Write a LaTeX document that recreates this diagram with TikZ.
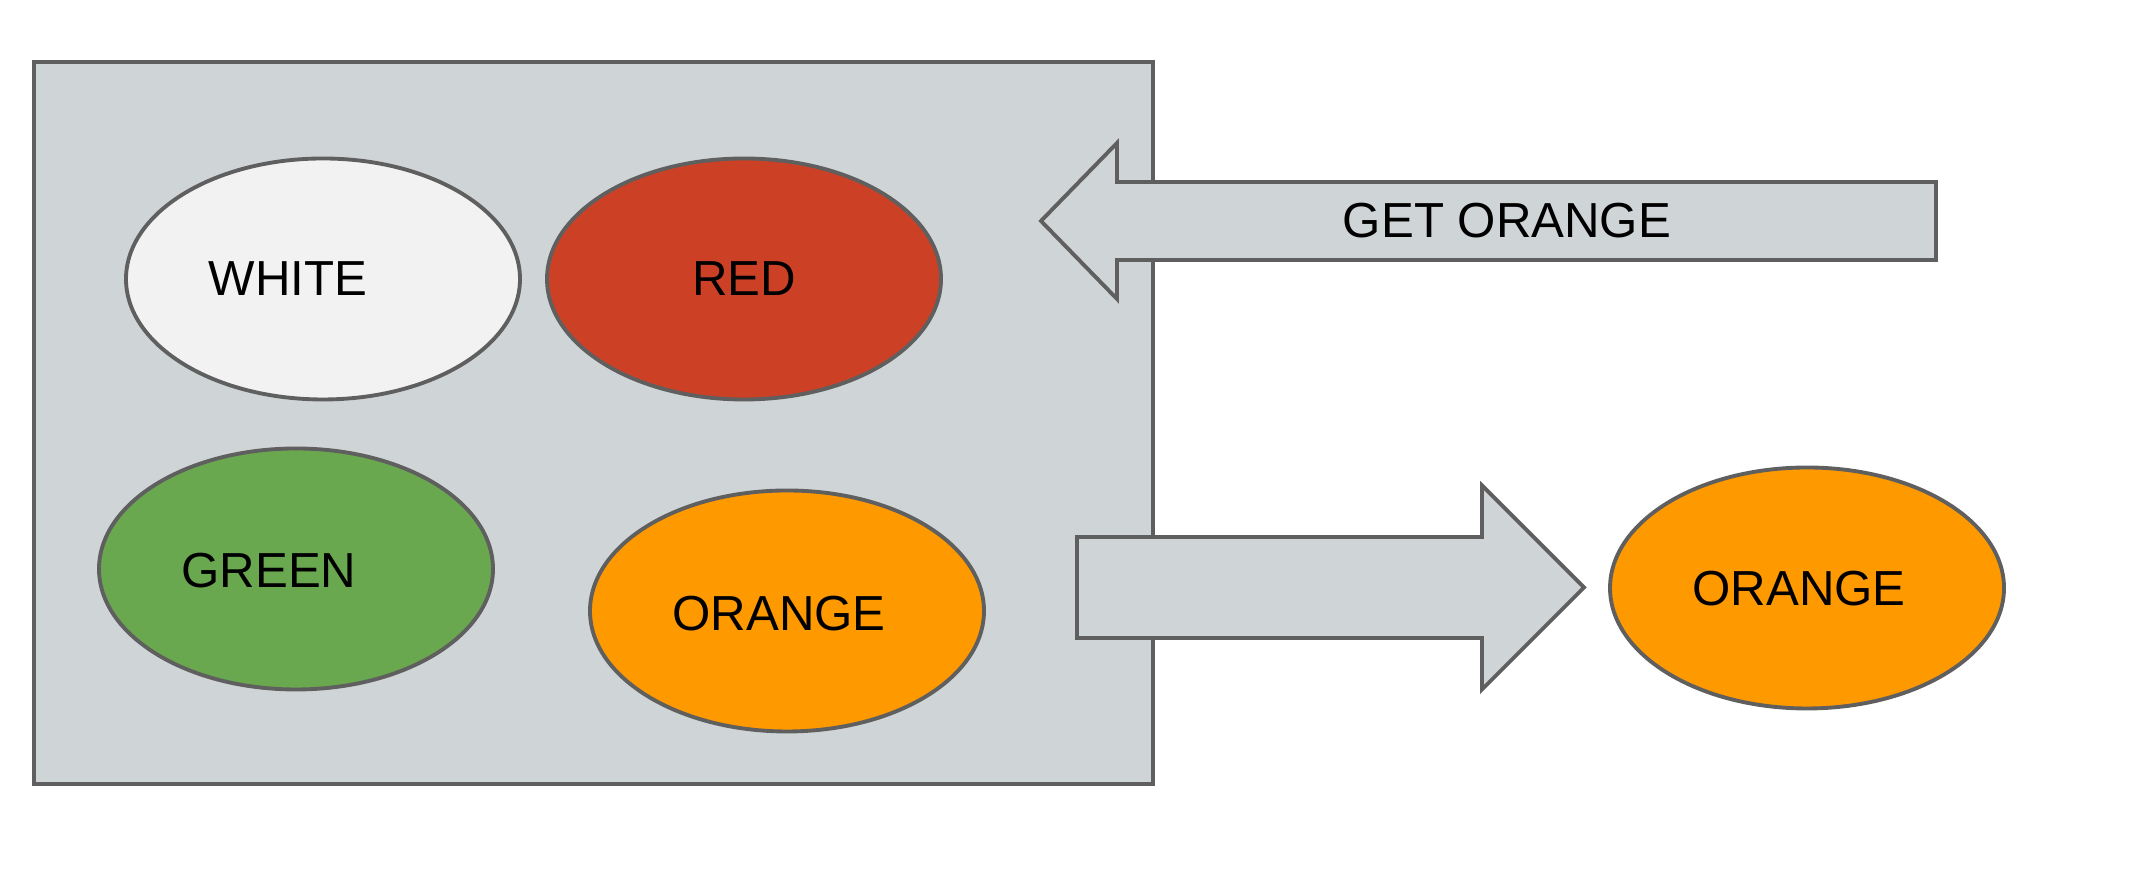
\documentclass[tikz,border=0pt]{standalone}
\usepackage{fontspec}
\setmainfont{Liberation Sans}
\usetikzlibrary{positioning,shapes.geometric}

\definecolor{boxgray}{HTML}{CFD5D6}
\definecolor{edgegray}{HTML}{5F5F5F}
\definecolor{chalk}{HTML}{F2F2F2}
\definecolor{berry}{HTML}{CC4125}
\definecolor{leaf}{HTML}{6AA84F}
\definecolor{peel}{HTML}{FF9900}

\begin{document}
\begin{tikzpicture}[
  outline/.style={draw=edgegray, line width=1.1pt, line join=miter},
  fruit/.style={ellipse, outline, minimum width=3.94cm, minimum height=2.41cm, inner sep=0pt},
  lbl/.style={font=\fontsize{14}{16}\selectfont, inner sep=0pt}
]

\useasboundingbox (0,0) rectangle (21.48,8.96);

% Basket
\draw[outline, fill=boxgray]
(0.34,1.12)
rectangle
(11.53,8.34);

% White
\node[fruit, fill=chalk]
(white)
at (3.23,6.17)
{};

\node[lbl]
(whitetxt)
at ([xshift=-0.35cm]white.center)
{WHITE};

% Red
\node[fruit, fill=berry]
(red)
at (7.44,6.17)
{};

\node[lbl]
(redtxt)
at (red.center)
{RED};

% Green
\node[fruit, fill=leaf]
(green)
at (2.96,3.27)
{};

\node[lbl]
(greentxt)
at ([xshift=-0.27cm,yshift=-0.02cm]green.center)
{GREEN};

% Orange in the basket
\node[fruit, fill=peel]
(orange)
at (7.87,2.85)
{};

\node[lbl]
(orangetxt)
at ([xshift=-0.08cm,yshift=-0.03cm]orange.center)
{ORANGE};

% Request arrow
\draw[outline, fill=boxgray]
(10.41,6.75)
--
(11.17,7.53)
--
(11.17,7.14)
--
(19.36,7.14)
--
(19.36,6.36)
--
(11.17,6.36)
--
(11.17,5.97)
--
cycle;

\node[lbl]
(get)
at (15.07,6.75)
{GET ORANGE};

% Delivery arrow
\draw[outline, fill=boxgray]
(10.77,3.59)
--
(14.82,3.59)
--
(14.82,4.105)
--
(15.84,3.085)
--
(14.82,2.065)
--
(14.82,2.58)
--
(10.77,2.58)
--
cycle;

% Orange handed out
\node[fruit, fill=peel]
(out)
at (18.07,3.08)
{};

\node[lbl]
(outtxt)
at ([xshift=-0.08cm,yshift=-0.01cm]out.center)
{ORANGE};

\end{tikzpicture}
\end{document}
